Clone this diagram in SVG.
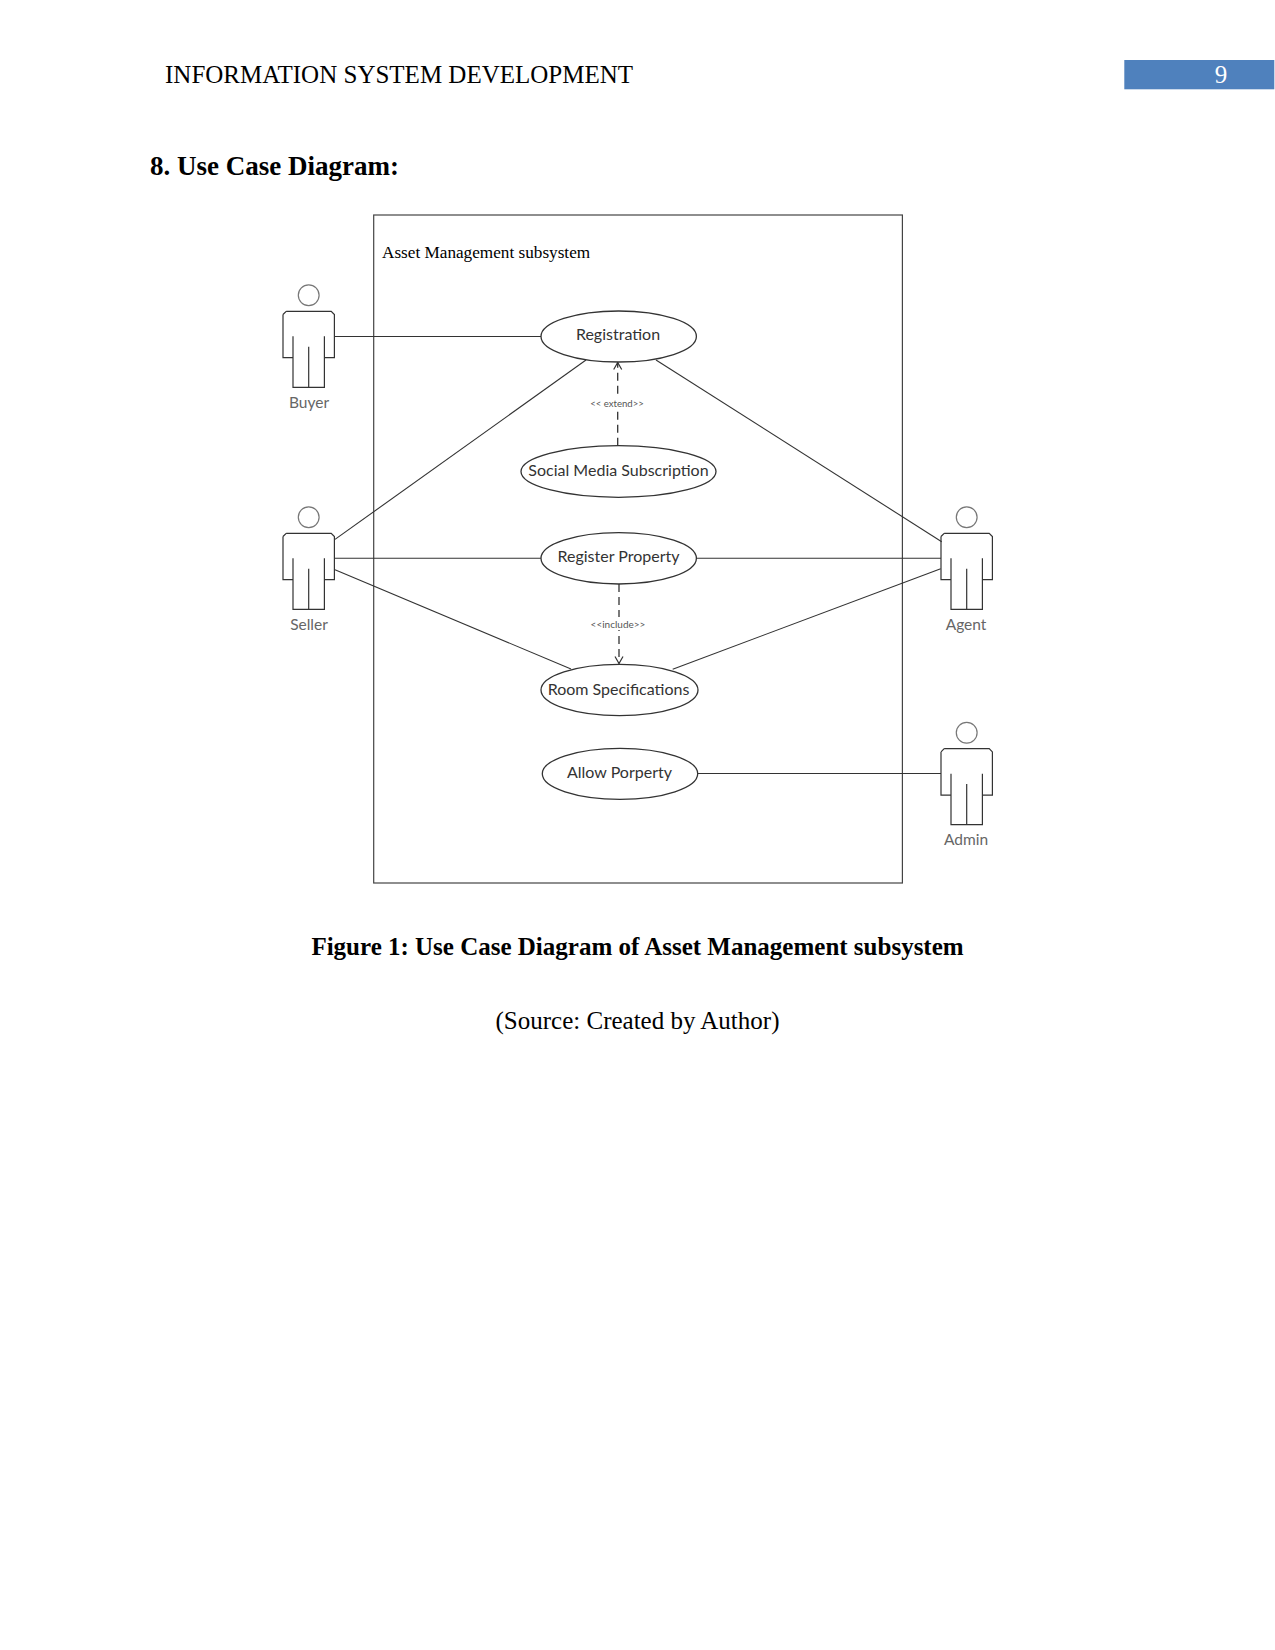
<svg xmlns="http://www.w3.org/2000/svg" width="1275" height="1650" viewBox="0 0 1275 1650">
<style>
.doc{font-family:"Liberation Serif","Times New Roman",serif;fill:#000}
.b{font-weight:bold}
.uc{fill:#fff;stroke:#333;stroke-width:1.3}
.uct{font-family:Lato,"Noto Sans",sans-serif;font-size:16px;fill:#333;text-anchor:middle}
.act{fill:none;stroke:#333;stroke-width:1.2}
.head{fill:#fff;stroke:#777;stroke-width:1.2}
.actt{font-family:Lato,"Noto Sans",sans-serif;font-size:15.5px;fill:#666;text-anchor:middle}
.ln{fill:none;stroke:#333;stroke-width:1.1}
.dash{fill:none;stroke:#333;stroke-width:1.3;stroke-dasharray:8 5}
.st{font-family:Lato,"Noto Sans",sans-serif;fill:#555;text-anchor:middle}
</style>
<defs>
<g id="actor">
<circle class="head" cx="0" cy="0" r="10.4"/>
<path class="act" d="M-22.5 16H22.5L25.7 19.2V62.4H15.7V41M-25.7 19.2L-22.5 16M-25.7 19.2V62.4H-15.7V41M-15.7 62.4V92H15.7V62.4M0 51.4V92"/>
</g>
<marker id="open" markerWidth="12" markerHeight="10" refX="9" refY="4.5" orient="auto" markerUnits="userSpaceOnUse">
<path d="M2 0.5L9 4.5L2 8.5" fill="none" stroke="#333" stroke-width="1.2"/>
</marker>
</defs>
<g id="header">
<text class="doc" x="165" y="83" font-size="25">INFORMATION SYSTEM DEVELOPMENT</text>
<rect x="1124.3" y="60" width="150" height="29.3" fill="#4f81bd"/>
<text x="1221" y="83" font-size="25" text-anchor="middle" fill="#fff" font-family="Liberation Serif,serif">9</text>
</g>
<text class="doc b" x="150" y="175" font-size="27">8. Use Case Diagram:</text>
<g id="subsystem">
<rect x="373.7" y="215" width="528.7" height="668" fill="#fff" stroke="#444" stroke-width="1.2"/>
<text class="doc" x="382" y="258" font-size="17.2" fill="#222">Asset Management subsystem</text>
</g>
<g id="connectors">
<path class="ln" d="M334 336.5H541"/>
<path class="ln" d="M335 539.4L586 360"/>
<path class="ln" d="M334 558.3H541"/>
<path class="ln" d="M335 569.7L571 669"/>
<path class="ln" d="M656 360L941.7 541.7"/>
<path class="ln" d="M696.3 558.3H941"/>
<path class="ln" d="M672.7 669.3L940.7 568.7"/>
<path class="ln" d="M697.7 773.5H941"/>
<path class="dash" d="M617.7 445.7V362.5" marker-end="url(#open)"/>
<path class="dash" d="M619 584V663.5" marker-end="url(#open)"/>
<rect x="589" y="397" width="56" height="13" fill="#fff"/>
<rect x="590" y="617" width="57" height="13" fill="#fff"/>
<text class="st" font-size="9.6" x="617" y="407">&lt;&lt; extend&gt;&gt;</text>
<text class="st" font-size="10" x="618" y="628">&lt;&lt;include&gt;&gt;</text>
</g>
<g id="uc-registration"><ellipse class="uc" cx="618.7" cy="336.5" rx="77.7" ry="25.5"/><text class="uct" x="618" y="340">Registration</text></g>
<g id="uc-social"><ellipse class="uc" cx="618.5" cy="471.5" rx="97.5" ry="25.8"/><text class="uct" x="618.5" y="476">Social Media Subscription</text></g>
<g id="uc-register-property"><ellipse class="uc" cx="618.7" cy="558.3" rx="77.7" ry="25.7"/><text class="uct" x="618.5" y="562">Register Property</text></g>
<g id="uc-room"><ellipse class="uc" cx="619.5" cy="690" rx="78.5" ry="25.7"/><text class="uct" x="618.5" y="695">Room Specifications</text></g>
<g id="uc-allow"><ellipse class="uc" cx="620" cy="773.8" rx="77.7" ry="25.5"/><text class="uct" x="619.5" y="778">Allow Porperty</text></g>
<g id="actor-buyer"><use href="#actor" x="308.7" y="295.3"/><text class="actt" x="309" y="408">Buyer</text></g>
<g id="actor-seller"><use href="#actor" x="308.7" y="517.3"/><text class="actt" x="309" y="630">Seller</text></g>
<g id="actor-agent"><use href="#actor" x="966.7" y="517.3"/><text class="actt" x="966" y="630">Agent</text></g>
<g id="actor-admin"><use href="#actor" x="966.7" y="732.7"/><text class="actt" x="966" y="845">Admin</text></g>
<text class="doc b" x="637.5" y="955" font-size="25" text-anchor="middle">Figure 1: Use Case Diagram of Asset Management subsystem</text>
<text class="doc" x="637.5" y="1029" font-size="25" text-anchor="middle">(Source: Created by Author)</text>
</svg>
